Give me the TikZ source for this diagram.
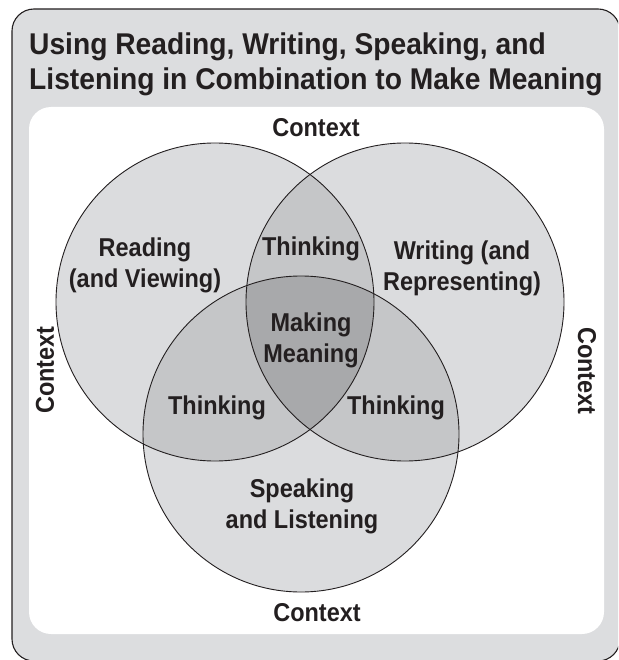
\documentclass[tikz,border=0pt]{standalone}
\usepackage{fontspec}
\setmainfont{Liberation Sans}
\newfontfamily\titlefont{Liberation Sans}[FakeStretch=0.94]
\newfontfamily\areafont{Liberation Sans}[FakeStretch=0.91]
\definecolor{panelgray}{RGB}{220,221,223}
\definecolor{onegray}{RGB}{219,220,222}
\definecolor{twogray}{RGB}{197,198,200}
\definecolor{threegray}{RGB}{168,169,171}
\definecolor{inkdark}{RGB}{35,31,32}
\tikzset{
  titletext/.style={font=\titlefont\fontsize{30}{35}\selectfont\bfseries, text=inkdark, inner sep=0pt, anchor=base west},
  areatext/.style={font=\areafont\fontsize{25.8}{31}\selectfont\bfseries, text=inkdark, align=center, inner sep=0pt},
  ring/.style={draw=inkdark, line width=0.9pt}
}
\begin{document}
\begin{tikzpicture}[x=1pt,y=-1pt]
  \useasboundingbox (0,0) rectangle (618,660);
  \clip (0,0) rectangle (618,660);
  % frame
  \draw[fill=panelgray, draw=inkdark, line width=1.1pt, rounded corners=22pt] (12,9) rectangle (620,661);
  \fill[white, rounded corners=22pt] (29,107) rectangle (604,634);
  \node[titletext] (title1) at (29,55) {Using Reading, Writing, Speaking, and};
  \node[titletext] (title2) at (29,90) {Listening in Combination to Make Meaning};
  % circle centres
  \coordinate (cread) at (215,302);
  \coordinate (cwrite) at (405,302);
  \coordinate (cspeak) at (301,434);
  % single areas
  \fill[onegray] (cread) circle (159);
  \fill[onegray] (cwrite) circle (159);
  \fill[onegray] (cspeak) circle (158);
  % pairwise overlaps
  \begin{scope}
    \clip (cread) circle (159);
    \fill[twogray] (cwrite) circle (159);
    \fill[twogray] (cspeak) circle (158);
  \end{scope}
  \begin{scope}
    \clip (cwrite) circle (159);
    \fill[twogray] (cspeak) circle (158);
  \end{scope}
  % centre
  \begin{scope}
    \clip (cread) circle (159);
    \clip (cwrite) circle (159);
    \fill[threegray] (cspeak) circle (158);
  \end{scope}
  \draw[ring] (cread) circle (159);
  \draw[ring] (cwrite) circle (159);
  \draw[ring] (cspeak) circle (158);
  % labels
  \node[areatext] (ctxtop) at (316,128) {Context};
  \node[areatext] (ctxbot) at (317,613) {Context};
  \node[areatext, rotate=90] (ctxleft) at (45,370) {Context};
  \node[areatext, rotate=-90] (ctxright) at (587,371) {Context};
  \node[areatext] (read) at (145,265) {Reading\\(and Viewing)};
  \node[areatext] (write) at (462,268) {Writing (and\\Representing)};
  \node[areatext] (thinktop) at (311,249) {Thinking};
  \node[areatext] (making) at (311,340) {Making\\Meaning};
  \node[areatext] (thinkleft) at (217,408) {Thinking};
  \node[areatext] (thinkright) at (396,408) {Thinking};
  \node[areatext] (speak) at (302,506) {Speaking\\and Listening};
\end{tikzpicture}
\end{document}
